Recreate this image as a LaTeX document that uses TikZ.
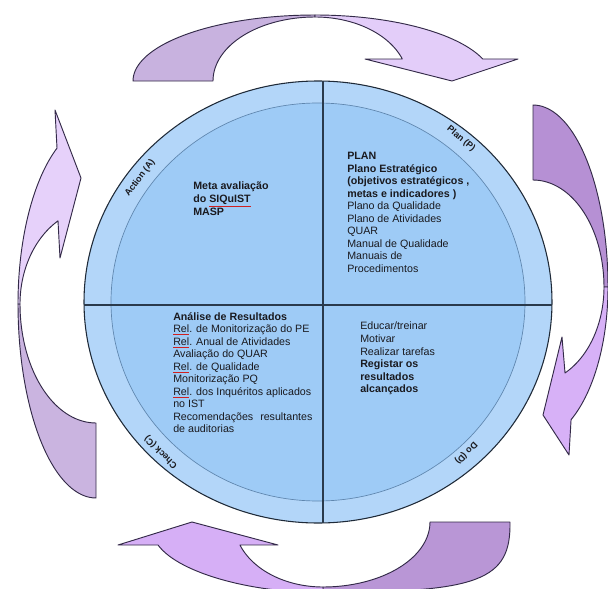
\documentclass[tikz,border=0pt]{standalone}
\usepackage{fontspec}
\setmainfont{Liberation Sans}
\definecolor{txt}{HTML}{1A1A1F}
\definecolor{splred}{HTML}{D02020}
\definecolor{ringfill}{HTML}{B3D6F9}
\definecolor{innerfill}{HTML}{9ECBF6}
\definecolor{ringedge}{HTML}{1F2A38}
\definecolor{inneredge}{HTML}{5F86AE}
\definecolor{crossline}{HTML}{2A3A4C}
\definecolor{arrowedge}{HTML}{332A48}
\definecolor{topdark}{HTML}{C8B2DF}
\definecolor{toplight}{HTML}{E3CDF9}
\definecolor{rightdark}{HTML}{B690D4}
\definecolor{rightlight}{HTML}{D7B1F7}
\definecolor{botdark}{HTML}{B996D6}
\definecolor{botlight}{HTML}{D6AFF6}
\definecolor{leftdark}{HTML}{CAB4E0}
\definecolor{leftlight}{HTML}{E6D1FA}
\newcommand\spl[1]{{\color{splred}\underline{\color{txt}#1}}}
\begin{document}
\begin{tikzpicture}[x=0.75pt,y=-0.75pt,
  arrowpart/.style={draw=arrowedge, line width=0.7pt, line join=round},
  txtblock/.style={anchor=north west, inner sep=0pt, align=left,
    font=\fontsize{8}{9.4}\selectfont, text=txt},
  ringlbl/.style={font=\fontsize{6.8}{7}\selectfont\bfseries, inner sep=0pt, text=txt}]
\useasboundingbox (0,0) rectangle (608,589);
\fill[white] (0,0) rectangle (608,589);
\clip (0,0) rectangle (608,589);

% ---- top arrow ----
\filldraw[arrowpart, fill=topdark]
  plot[domain=180:270,samples=40] ({315+182*cos(\x)},{81+66*sin(\x)})
  -- plot[domain=270:180,samples=40] ({315+102*cos(\x)},{81+64*sin(\x)}) -- cycle;
\filldraw[arrowpart, fill=toplight]
  plot[domain=270:340.5,samples=40] ({315+178*cos(\x)},{81+66*sin(\x)})
  -- (518,59) -- (452,81) -- (365,59)
  -- plot[domain=339.9:270,samples=40] ({315+93*cos(\x)},{81+64*sin(\x)}) -- cycle;

% ---- right arrow ----
\filldraw[arrowpart, fill=rightdark]
  plot[domain=-90:0,samples=40] ({533+75*cos(\x)},{287+182*sin(\x)})
  -- plot[domain=0:-90,samples=40] ({533+71*cos(\x)},{287+107*sin(\x)}) -- cycle;
\filldraw[arrowpart, fill=rightlight]
  plot[domain=0:59.5,samples=40] ({533+75*cos(\x)},{287+154*sin(\x)})
  -- (569,455) -- (543,415) -- (562,337)
  -- plot[domain=63.2:0,samples=40] ({533+71*cos(\x)},{287+96.3*sin(\x)}) -- cycle;

% ---- bottom arrow ----
\filldraw[arrowpart, fill=botdark]
  (510,522) .. controls (511,580) and (480,593) .. (323,592)
  -- (323,587)
  -- plot[domain=90:0,samples=40] ({323+107*cos(\x)},{522+65*sin(\x)}) -- cycle;
\filldraw[arrowpart, fill=botlight]
  (323,592) .. controls (260,594) and (180,575) .. (158,545)
  -- (118,545) -- (192,522) -- (278,545)
  -- plot[domain=159.3:90,samples=40] ({323+88.8*cos(\x)},{522+65*sin(\x)}) -- cycle;

% ---- left arrow ----
\filldraw[arrowpart, fill=leftdark]
  plot[domain=90:180,samples=40] ({96+78*cos(\x)},{304+194*sin(\x)})
  -- plot[domain=180:90,samples=40] ({96+76*cos(\x)},{304+119*sin(\x)}) -- cycle;
\filldraw[arrowpart, fill=leftlight]
  plot[domain=180:240,samples=40] ({96+78*cos(\x)},{304+180*sin(\x)})
  -- (55,110) -- (81,178) -- (60,258)
  -- plot[domain=240:180,samples=40] ({96+76*cos(\x)},{304+96*sin(\x)}) -- cycle;

% ---- circles (slightly flattened, as in the reference) ----
\filldraw[fill=ringfill, draw=ringedge, line width=0.8pt] (318,302) ellipse[x radius=234, y radius=221];
\filldraw[fill=innerfill, draw=inneredge, line width=0.5pt] (318,302) ellipse[x radius=207, y radius=199];

% ---- cross lines ----
\coordinate (vtop) at (323,81);
\coordinate (vbot) at (323,523);
\coordinate (hleft) at (84,305);
\coordinate (hright) at (552,305);
\draw[crossline, line width=0.8pt] (vtop) -- (vbot);
\draw[crossline, line width=0.8pt] (hleft) -- (hright);

% ---- ring labels ----
\node[ringlbl, rotate=-40] (lplan) at (461,139) {Plan (P)};
\node[ringlbl, rotate=53] (laction) at (140,178) {Action (A)};
\node[ringlbl, rotate=135] (lcheck) at (161,452) {Check (C)};
\node[ringlbl, rotate=226] (ldo) at (466,453) {Do (D)};

% ---- text blocks ----
\node[txtblock] (meta) at (193,182) {\textbf{Meta avaliação}\\\textbf{do \spl{SIQuIST}}\\\textbf{MASP}};
\node[txtblock] (plan) at (347,152) {\textbf{PLAN}\\\textbf{Plano Estratégico}\\\textbf{(objetivos estratégicos ,}\\\textbf{metas e indicadores )}\\Plano da Qualidade\\Plano de Atividades\\QUAR\\Manual de Qualidade\\Manuais de\\Procedimentos};
\node[txtblock] (check) at (173,312) {\textbf{Análise de Resultados}\\\spl{Rel}. de Monitorização do PE\\\spl{Rel}. Anual de Atividades\\Avaliação do QUAR\\\spl{Rel}. de Qualidade\\Monitorização PQ\\\spl{Rel}. dos Inquéritos aplicados\\no IST\\Recomendações\hspace{3pt} resultantes\\de auditorias};
\node[txtblock] (do) at (360,322) {Educar/treinar\\Motivar\\Realizar tarefas\\\textbf{Registar os}\\\textbf{resultados}\\\textbf{alcançados}};
\end{tikzpicture}
\end{document}
